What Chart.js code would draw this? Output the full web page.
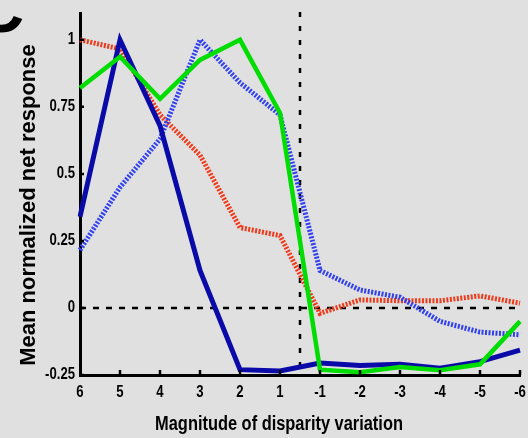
<!DOCTYPE html>
<html>
<head>
<meta charset="utf-8">
<script src="https://cdn.jsdelivr.net/npm/chart.js@4/dist/chart.umd.min.js"></script>
<style>
  html, body { margin: 0; padding: 0; background: #e0e0e0; }
  #wrap { width: 528px; height: 438px; position: relative; }
</style>
</head>
<body>
<div id="wrap"><canvas id="c" width="528" height="438"></canvas></div>
<script>
// Disparity magnitudes along the x axis
const categories = ['6', '5', '4', '3', '2', '1', '-1', '-2', '-3', '-4', '-5', '-6'];
const yTickValues = [-0.25, 0, 0.25, 0.5, 0.75, 1];

// Mean normalized net response per population
const navySolid  = [0.34, 1.0, 0.68, 0.14, -0.23, -0.235, -0.205, -0.215, -0.21, -0.225, -0.2, -0.157];
const greenSolid = [0.82, 0.937, 0.78, 0.925, 1.0, 0.727, -0.23, -0.24, -0.22, -0.232, -0.21, -0.05];
const redDotted  = [1.0, 0.966, 0.72, 0.57, 0.30, 0.27, -0.02, 0.03, 0.027, 0.027, 0.045, 0.018];
const blueDotted = [0.216, 0.45, 0.63, 1.0, 0.84, 0.72, 0.14, 0.067, 0.04, -0.05, -0.09, -0.10];

const xTitle = 'Magnitude of disparity variation';
const yTitle = 'Mean normalized net response';
const panelLetter = 'C';

const SANS = '"Liberation Sans", Arial, sans-serif';
const NARROW_SCALE = 0.82;

// Text squeezed horizontally (narrow bold face)
function narrowText(ctx, text, x, y, size, align) {
  ctx.save();
  ctx.translate(x, y);
  ctx.scale(NARROW_SCALE, 1);
  ctx.font = 'bold ' + size + 'px ' + SANS;
  ctx.textAlign = align;
  ctx.textBaseline = 'middle';
  ctx.fillText(text, 0, 0);
  ctx.restore();
}

// Reference lines, inward tick marks, tick labels, axis titles and panel letter
const decor = {
  id: 'decor',
  beforeDatasetsDraw(chart) {
    const { ctx, chartArea: a, scales: { x, y } } = chart;
    ctx.save();
    ctx.strokeStyle = '#000';
    ctx.lineWidth = 2.5;
    ctx.setLineDash([6, 7]);
    const y0 = y.getPixelForValue(0);
    ctx.beginPath();
    ctx.moveTo(a.left, y0);
    ctx.lineTo(a.right, y0);
    ctx.stroke();
    ctx.setLineDash([5, 9]);
    const xMid = x.getPixelForValue(5.5);
    ctx.beginPath();
    ctx.moveTo(xMid, a.top - 1);
    ctx.lineTo(xMid, a.bottom);
    ctx.stroke();
    ctx.restore();
  },
  afterDraw(chart) {
    const { ctx, chartArea: a, scales: { x, y } } = chart;
    ctx.save();
    ctx.strokeStyle = '#000';
    ctx.lineWidth = 2.5;
    ctx.setLineDash([]);
    ctx.beginPath();
    for (let i = 1; i < categories.length; i++) {
      const px = x.getPixelForValue(i);
      ctx.moveTo(px, a.bottom);
      ctx.lineTo(px, a.bottom - 5);
    }
    yTickValues.forEach(v => {
      const py = y.getPixelForValue(v);
      ctx.moveTo(a.left, py);
      ctx.lineTo(a.left + 4, py);
    });
    ctx.stroke();

    ctx.fillStyle = '#000';
    categories.forEach((c, i) => {
      narrowText(ctx, c, x.getPixelForValue(i), a.bottom + 18, 16, 'center');
    });
    yTickValues.forEach(v => {
      narrowText(ctx, String(v), a.left - 5, y.getPixelForValue(v), 16, 'right');
    });

    narrowText(ctx, xTitle, 279, 424, 20, 'center');

    ctx.save();
    ctx.translate(29, 205);
    ctx.rotate(-Math.PI / 2);
    ctx.font = 'bold 22px ' + SANS;
    ctx.textAlign = 'center';
    ctx.textBaseline = 'middle';
    ctx.fillText(yTitle, 0, 0);
    ctx.restore();

    ctx.font = 'bold 68px ' + SANS;
    ctx.textAlign = 'left';
    ctx.textBaseline = 'alphabetic';
    ctx.fillText(panelLetter, -25, 32);
    ctx.restore();
  }
};

const dottedLine = (data, color) => ({
  data, borderColor: color, borderWidth: 5, borderDash: [2, 1.5], pointRadius: 0, tension: 0
});
const solidLine = (data, color, w) => ({
  data, borderColor: color, borderWidth: w, pointRadius: 0, tension: 0
});

new Chart(document.getElementById('c'), {
  type: 'line',
  data: {
    labels: categories,
    datasets: [
      solidLine(greenSolid, '#00dd00', 4.5),
      solidLine(navySolid, '#0a0aa8', 5),
      dottedLine(blueDotted, '#3040ee'),
      dottedLine(redDotted, '#ee3a1a')
    ]
  },
  options: {
    responsive: false,
    animation: false,
    devicePixelRatio: 1,
    layout: { padding: { top: 13, right: 8, left: 0, bottom: 0 } },
    plugins: { legend: { display: false }, tooltip: { enabled: false } },
    elements: { line: { borderCapStyle: 'butt', borderJoinStyle: 'miter' } },
    scales: {
      x: {
        type: 'category',
        offset: false,
        grid: { display: false, drawTicks: false },
        border: { display: true, color: '#000', width: 3 },
        ticks: { display: false },
        afterFit(s) { s.height = 63; }
      },
      y: {
        min: -0.25,
        max: 1.1,
        afterBuildTicks(s) { s.ticks = yTickValues.map(v => ({ value: v })); },
        grid: { display: false, drawTicks: false },
        border: { display: true, color: '#000', width: 3 },
        ticks: { display: false },
        afterFit(s) { s.width = 80; }
      }
    }
  },
  plugins: [decor]
});
</script>
</body>
</html>
